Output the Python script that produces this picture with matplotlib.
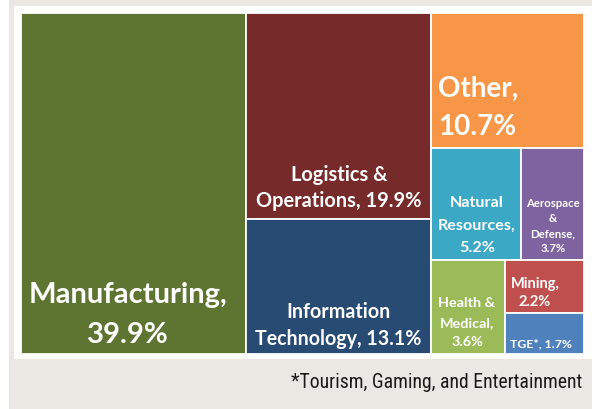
import matplotlib
matplotlib.use("Agg")
import matplotlib.pyplot as plt
from matplotlib.patches import Rectangle
from matplotlib import font_manager as fm

# ---------------- data ----------------
sectors = ["Manufacturing", "Logistics & Operations", "Information Technology", "Other",
           "Natural Resources", "Aerospace & Defense", "Health & Medical", "Mining", "TGE*"]
shares = [39.9, 19.9, 13.1, 10.7, 5.2, 3.7, 3.6, 2.2, 1.7]
label_templates = ["Manufacturing,\n{}%", "Logistics &\nOperations, {}%", "Information\nTechnology, {}%",
                   "Other,\n{}%", "Natural\nResources,\n{}%", "Aerospace\n&\nDefense,\n{}%",
                   "Health &\nMedical,\n{}%", "Mining,\n{}%", "TGE*, {}%"]
colors = ["#5e7532", "#772a2a", "#284b74", "#f79646", "#3ba9c6",
          "#7f63a1", "#9bbb59", "#c0504d", "#4f81bd"]
footnote = "*Tourism, Gaming, and Entertainment"

# nesting of the treemap: 'h' = side by side, 'v' = stacked
tree = ("h", [0, ("v", [1, 2]), ("v", [3, ("h", [4, 5]), ("h", [6, ("v", [7, 8])])])])

# ---------------- figure ----------------
W, H = 592, 409
fig = plt.figure(figsize=(W / 100, H / 100), dpi=100)
fig.patch.set_facecolor("white")
ax = fig.add_axes([0, 0, 1, 1])
ax.set_xlim(0, W)
ax.set_ylim(H, 0)
ax.axis("off")

ax.add_patch(Rectangle((9, 0), W - 9, H, facecolor="#ebe8e4", edgecolor="none", zorder=0))
ax.add_patch(Rectangle((14, 6), W - 14, 353, facecolor="white", edgecolor="none", zorder=1))


def total(node):
    if isinstance(node, int):
        return shares[node]
    return sum(total(c) for c in node[1])


rects = {}


def layout(node, x, y, w, h):
    if isinstance(node, int):
        rects[node] = (x, y, w, h)
        return
    d, kids = node
    s = total(node)
    pos = 0.0
    for k in kids:
        f = total(k) / s
        if d == "h":
            layout(k, x + pos * w, y, f * w, h)
        else:
            layout(k, x, y + pos * h, w, f * h)
        pos += f


X0, Y0, X1, Y1 = 21, 13, 584, 354
layout(tree, X0, Y0, X1 - X0, Y1 - Y0)

for i in range(len(shares)):
    x, y, w, h = rects[i]
    ax.add_patch(Rectangle((x, y), w, h, facecolor=colors[i], edgecolor="white",
                           linewidth=1.3, zorder=2))

# ---------------- labels ----------------
avail = {f.name for f in fm.fontManager.ttflist}
lab_font = "Lato" if "Lato" in avail else "DejaVu Sans"
fn_font = next((f for f in ["Liberation Sans Narrow", "Roboto Condensed", "Liberation Sans"] if f in avail),
               "DejaVu Sans")

# (x anchor, ha, baselines, target width of widest line)
placements = [
    (128, "center", [303, 343], 199),
    (339, "center", [181, 207], 166),
    (338, "center", [318, 345], 167),
    (438, "left", [97, 135], 80),
    (477, "center", [207, 230, 252], 78),
    (553, "center", [207, 222, 237, 252], 54),
    (467, "center", [307, 327, 346], 57),
    (535, "center", [288, 306], 49),
    (541, "center", [347], 62),
]

fig.canvas.draw()
renderer = fig.canvas.get_renderer()

for i, (xa, ha, bls, tw) in enumerate(placements):
    lines = label_templates[i].format(shares[i]).split("\n")
    objs = [ax.text(xa, b, ln, ha=ha, va="baseline", color="white", fontsize=10,
                    fontfamily=lab_font, fontweight="bold", zorder=3) for ln, b in zip(lines, bls)]
    widest = max(o.get_window_extent(renderer).width for o in objs)
    fs = 10 * tw / widest
    for o in objs:
        o.set_fontsize(fs)

t = ax.text(582, 388, footnote, ha="right", va="baseline", color="#1a1a1a", fontsize=10,
            fontfamily=fn_font, zorder=3)
wd = t.get_window_extent(renderer).width
t.set_fontsize(10 * 291 / wd)

fig.savefig("out.png", dpi=100)
